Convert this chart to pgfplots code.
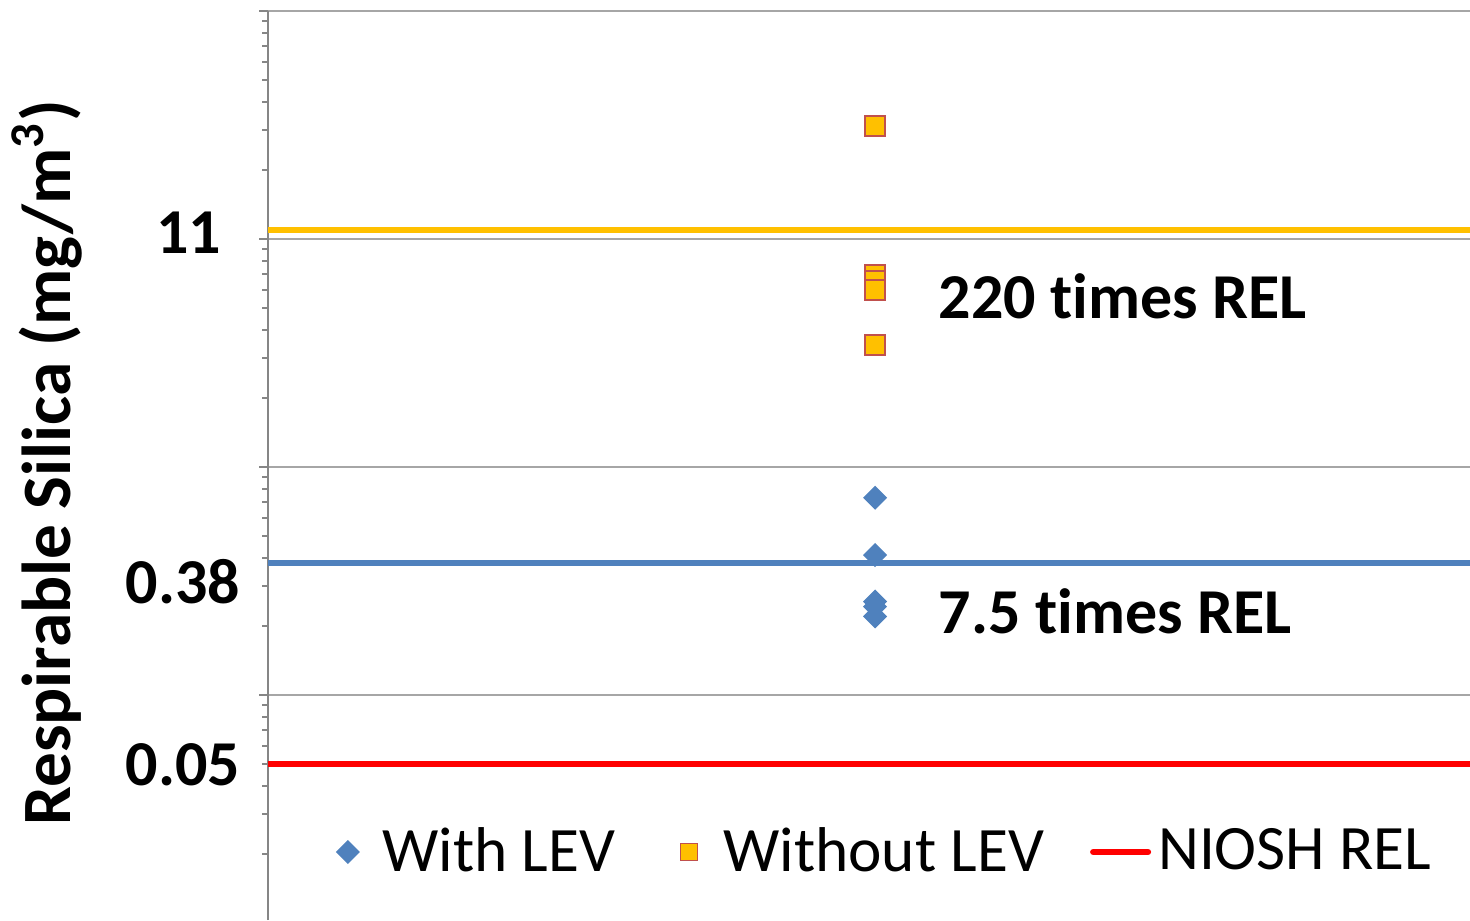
\documentclass[border=0pt]{standalone}
\usepackage{pgfplots}
\pgfplotsset{compat=1.18}
\usepackage{fontspec}
\setmainfont{Carlito}[Ligatures=NoCommon]

\definecolor{levblue}{HTML}{4F81BD}
\definecolor{levorange}{HTML}{FFC000}
\definecolor{levedge}{HTML}{C0504D}
\definecolor{axgray}{HTML}{868686}
\definecolor{gridgray}{HTML}{A6A6A6}

\newcommand{\bigfont}{\fontsize{18.2}{22}\selectfont}
\newcommand{\legfont}{\fontsize{18}{22}\selectfont}

\pgfplotsset{
  marklegend/.style={legend image code/.code={\path[draw=none, fill=none] (0mm,0mm) -- (5.5mm,0mm);
    \draw[##1] plot coordinates {(2.75mm,0mm)};}},
  sqlegend/.style={legend image code/.code={\path[draw=none, fill=none] (0mm,0mm) -- (5.5mm,0mm);
    \draw[##1, mark size=0.85mm] plot coordinates {(2.75mm,0mm)};}},
  linelegend/.style={legend image code/.code={\draw[##1, line cap=round] (0mm,0mm) -- (5.5mm,0mm);}},
}

\begin{document}
\begin{tikzpicture}[x=1mm,y=1mm]
\path[use as bounding box] (0,0) rectangle (147,92);
\begin{axis}[
  at={(26.8mm,0mm)}, anchor=south west,
  scale only axis, width=120.2mm, height=90.9mm,
  ymode=log, ymin=0.0103, ymax=100,
  xmin=0, xmax=2,
  axis lines*=left,
  x axis line style={draw=none},
  xtick=\empty,
  y axis line style={axgray, line width=0.2mm},
  ytick={0.01,0.1,1,10,100},
  yticklabels={},
  minor ytick={0.02,0.03,0.04,0.05,0.06,0.07,0.08,0.09,
               0.2,0.3,0.4,0.5,0.6,0.7,0.8,0.9,
               2,3,4,5,6,7,8,9,20,30,40,50,60,70,80,90},
  ymajorgrids,
  major grid style={gridgray, line width=0.2mm},
  tick align=outside,
  major tick length=0.9mm, minor tick length=0.6mm,
  every tick/.style={axgray, line width=0.2mm},
  legend style={at={(0.043,0.0748)}, anchor=west, draw=none, fill=none,
    font=\legfont, inner sep=0pt,
    /tikz/every even column/.append style={column sep=3.9mm}},
  legend columns=-1,
  legend cell align=left,
]
% With LEV
\addplot[only marks, mark=square*, mark size=0.78mm,
  mark options={rotate=45, fill=levblue, draw=levblue}, marklegend]
  coordinates {(1.01,0.733) (1.01,0.411) (1.01,0.257) (1.01,0.244) (1.01,0.221)};
% Without LEV
\addplot[only marks, mark=square*, mark size=1mm,
  mark options={fill=levorange, draw=levedge, line width=0.15mm}, sqlegend]
  coordinates {(1.01,31.3) (1.01,6.95) (1.01,6.55) (1.01,5.97) (1.01,3.43)};
% NIOSH REL
\addplot[red, line width=0.6mm, linelegend]
  coordinates {(0,0.05) (2,0.05)};
% mean lines
\addplot[levorange, line width=0.6mm, forget plot] coordinates {(0,11) (2,11)};
\addplot[levblue, line width=0.6mm, forget plot] coordinates {(0,0.38) (2,0.38)};
\legend{With LEV, Without LEV, NIOSH REL}
\end{axis}

\node[anchor=base east, inner sep=0pt, font=\bfseries\bigfont] at (22.2,66.7) {11};
\node[anchor=base east, inner sep=0pt, font=\bfseries\bigfont] at (24.1,31.7) {0.38};
\node[anchor=base east, inner sep=0pt, font=\bfseries\bigfont] at (24.1,13.5) {0.05};
\node[anchor=base west, inner sep=0pt, font=\bfseries\bigfont] at (93.8,60.2) {220 times REL};
\node[anchor=base west, inner sep=0pt, font=\bfseries\bigfont] at (93.8,28.7) {7.5 times REL};
\node[rotate=90, anchor=base, inner sep=0pt, font=\bfseries\fontsize{19.7}{23}\selectfont] at (7.0,45.7)
  {Respirable Silica (mg/m\textsuperscript{3})};
\end{tikzpicture}
\end{document}
